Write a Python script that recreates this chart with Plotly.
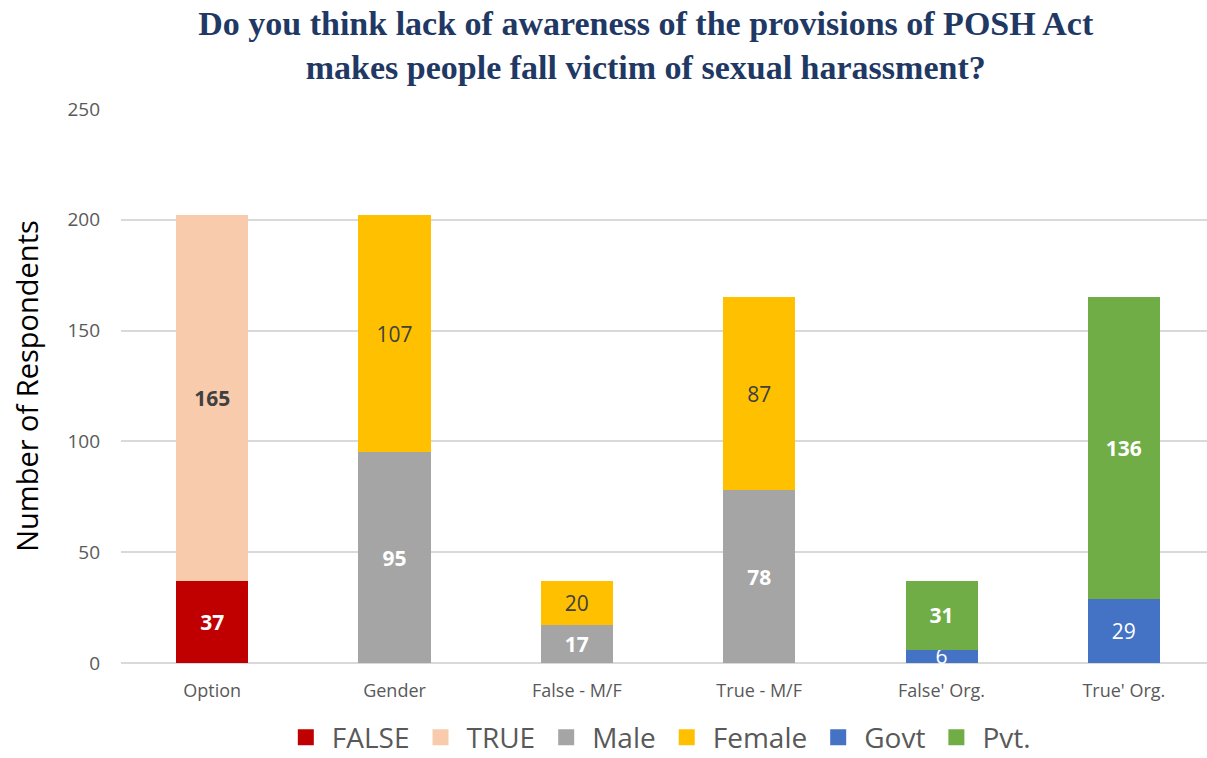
import plotly.graph_objects as go

categories = ["Option", "Gender", "False - M/F", "True - M/F", "False' Org.", "True' Org."]

false_vals = [37, None, None, None, None, None]
true_vals = [165, None, None, None, None, None]
male_vals = [None, 95, 17, 78, None, None]
female_vals = [None, 107, 20, 87, None, None]
govt_vals = [None, None, None, None, 6, 29]
pvt_vals = [None, None, None, None, 31, 136]

# (name, values, fill colour, label colour, bold labels)
series = [
    ("FALSE", false_vals, "#C00000", "#FFFFFF", True),
    ("TRUE", true_vals, "#F8CBAD", "#404040", True),
    ("Male", male_vals, "#A5A5A5", "#FFFFFF", True),
    ("Female", female_vals, "#FFC000", "#404040", False),
    ("Govt", govt_vals, "#4472C4", "#FFFFFF", False),
    ("Pvt.", pvt_vals, "#70AD47", "#FFFFFF", True),
]

fig = go.Figure()
for name, vals, color, label_color, bold in series:
    labels = []
    for v in vals:
        if v is None:
            labels.append("")
        elif bold:
            labels.append(f"<b>{v}</b>")
        else:
            labels.append(str(v))
    fig.add_trace(go.Bar(
        name=name,
        legendgroup=name,
        showlegend=False,
        x=categories,
        y=vals,
        marker=dict(color=color, line=dict(width=0)),
        text=labels,
        texttemplate="%{text}",
        textposition="inside",
        insidetextanchor="middle",
        textangle=0,
        textfont=dict(family="Open Sans", size=21, color=label_color),
        width=0.395,
        cliponaxis=False,
    ))

# legend keys: larger square swatches for each series
for name, vals, color, label_color, bold in series:
    fig.add_trace(go.Scatter(
        name=name,
        legendgroup=name,
        x=[None],
        y=[None],
        mode="markers",
        marker=dict(symbol="square", size=18, color=color),
        hoverinfo="skip",
    ))

fig.update_layout(
    barmode="stack",
    width=1207,
    height=758,
    paper_bgcolor="white",
    plot_bgcolor="white",
    margin=dict(l=121, r=0, t=109, b=95),
    uniformtext=dict(minsize=21, mode="show"),
    title=dict(
        text="Do you think lack of awareness of the provisions of POSH Act<br>makes people fall victim of sexual harassment?",
        font=dict(family="Liberation Serif", size=34, color="#1F3864", weight="bold"),
        x=0.535,
        xanchor="center",
        y=0.954,
        yanchor="middle",
    ),
    legend=dict(
        orientation="h",
        traceorder="normal",
        xref="container",
        yref="container",
        x=0.545,
        xanchor="center",
        y=0.027,
        yanchor="middle",
        font=dict(family="Open Sans", size=28, color="#595959"),
        itemsizing="trace",
        itemwidth=42,
    ),
    xaxis=dict(
        range=[-0.5, 5.456],
        showgrid=False,
        showline=False,
        ticks="",
        ticklabelstandoff=15,
        automargin=False,
        tickfont=dict(family="Open Sans", size=18, color="#595959"),
    ),
    yaxis=dict(
        range=[0, 250],
        dtick=50,
        showgrid=True,
        gridcolor="#D9D9D9",
        gridwidth=1.5,
        zeroline=True,
        zerolinecolor="#D9D9D9",
        zerolinewidth=1.5,
        showline=False,
        ticks="",
        ticklabelstandoff=20,
        tickfont=dict(family="Open Sans", size=19, color="#595959"),
        title=dict(
            text="Number of Respondents",
            font=dict(family="Open Sans", size=29, color="#000000"),
            standoff=20,
        ),
    ),
)

fig.write_html("out.html")
